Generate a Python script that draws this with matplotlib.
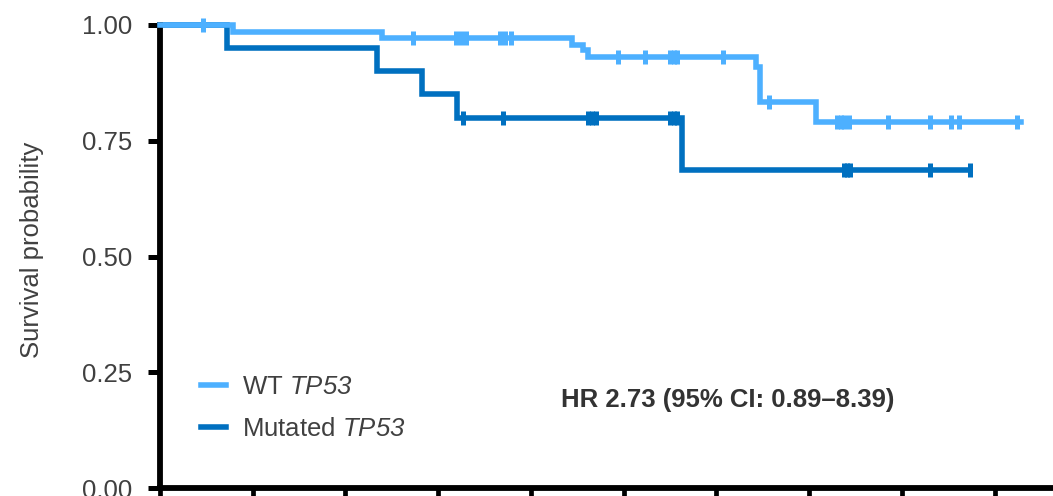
import matplotlib
matplotlib.use('Agg')
import matplotlib.pyplot as plt

plt.rcParams['font.family'] = ['Liberation Sans', 'DejaVu Sans']
plt.rcParams['mathtext.fontset'] = 'custom'
# gene names are fully italic, digits included
plt.rcParams['mathtext.it'] = 'Liberation Sans:italic'
plt.rcParams['mathtext.rm'] = 'Liberation Sans:italic'

# Kaplan-Meier steps (x in tick units)
wt_times = [0.0, 0.79, 2.39, 4.44, 4.56, 4.62, 6.43, 6.47, 7.07, 9.28]
wt_surv = [1.0, 0.984, 0.972, 0.957, 0.945, 0.930, 0.910, 0.834, 0.791, 0.791]
wt_cens = [0.46, 2.73, 3.19, 3.25, 3.30, 3.67, 3.72, 3.78, 4.94, 5.23,
           5.50, 5.54, 5.58, 6.07, 6.57, 7.30, 7.34, 7.38, 7.43, 7.85,
           8.30, 8.53, 8.62, 9.24]

mut_times = [0.0, 0.72, 2.34, 2.83, 3.20, 5.63, 8.73]
mut_surv = [1.0, 0.95, 0.90, 0.85, 0.80, 0.686, 0.686]
mut_cens = [3.27, 3.70, 4.62, 4.66, 4.70, 5.50, 5.54, 5.58, 7.38, 7.41,
            7.44, 8.30, 8.73]

labels = ['WT $TP53$', 'Mutated $TP53$']
hr_text = 'HR 2.73 (95% CI: 0.89\u20138.39)'
yticks = [0.0, 0.25, 0.50, 0.75, 1.00]
xticks = list(range(10))

light = '#4DB0FF'
dark = '#0070C0'
txt = '#404040'


def surv_at(times, surv, t):
    s = surv[0]
    for tt, ss in zip(times, surv):
        if tt <= t:
            s = ss
    return s


fig = plt.figure(figsize=(10.53, 4.96), dpi=100)
ax = fig.add_axes([160 / 1053, 8 / 496, 893 / 1053, 463 / 496])

for times, surv, cens, col, lab, z in [
        (mut_times, mut_surv, mut_cens, dark, labels[1], 2),
        (wt_times, wt_surv, wt_cens, light, labels[0], 3)]:
    ax.step(times, surv, where='post', color=col, lw=4.0, label=lab,
            clip_on=False, zorder=z, solid_joinstyle='miter')
    cy = [surv_at(times, surv, t) for t in cens]
    ax.plot(cens, cy, ls='none', marker='|', ms=9.5, mew=3.6, color=col,
            clip_on=False, zorder=z)

ax.set_xlim(0, 9.63)
ax.set_ylim(0, 1.0)
ax.set_xticks(xticks)
ax.set_xticklabels([])
ax.set_yticks(yticks)
ax.set_yticklabels(['0.00', '0.25', '0.50', '0.75', '1.00'])

for s in ['top', 'right']:
    ax.spines[s].set_visible(False)
for s in ['left', 'bottom']:
    ax.spines[s].set_linewidth(4.2)
    ax.spines[s].set_color('black')
    ax.spines[s].set_capstyle('projecting')

ax.tick_params(axis='y', length=9, width=3.6, pad=11, labelsize=18.5,
               labelcolor=txt, color='black')
ax.tick_params(axis='x', length=12, width=3.4, color='black')

fig.text(32 / 1053, 0.496, 'Survival probability', rotation=90,
         ha='center', va='center', fontsize=18.5, color=txt)

handles, labs = ax.get_legend_handles_labels()
leg = ax.legend(handles[::-1], labs[::-1], loc='lower left',
                bbox_to_anchor=(0.034, 0.079), frameon=False, fontsize=18.5,
                handlelength=1.0, handletextpad=0.62, labelspacing=0.72,
                borderaxespad=0)
for t in leg.get_texts():
    t.set_color(txt)

ax.text(0.6355, 0.19, hr_text, transform=ax.transAxes, ha='center',
        va='center', fontsize=18.5, fontweight='bold', color='#333333')

fig.savefig('out.png', dpi=100)
